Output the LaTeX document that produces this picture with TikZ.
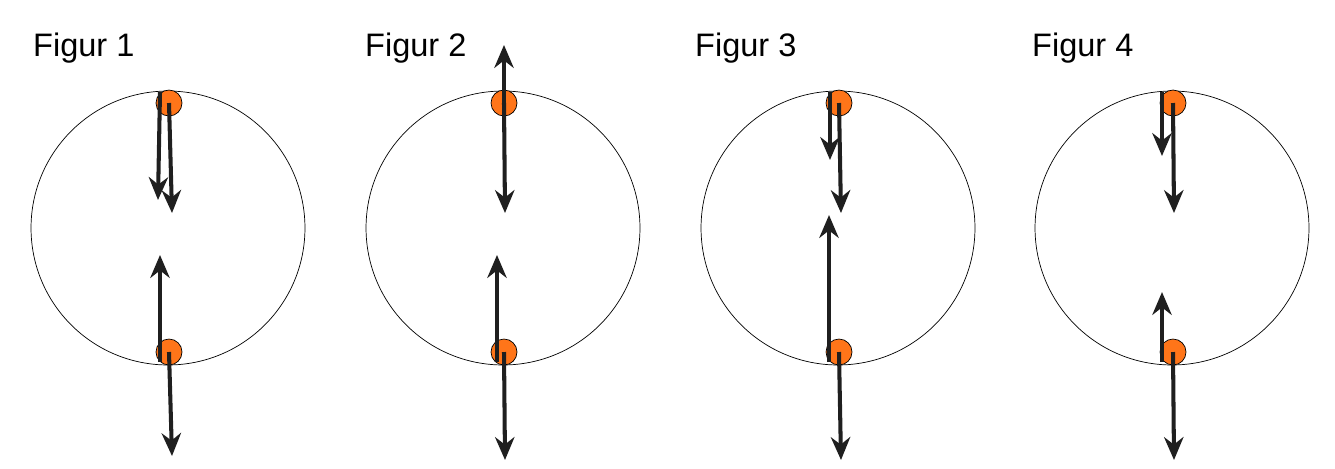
\documentclass[tikz,border=0pt]{standalone}
\usepackage{fontspec}
\setmainfont{Liberation Sans}
\usetikzlibrary{arrows.meta}

\begin{document}
\begin{tikzpicture}[x=0.02cm, y=-0.02cm,
  ring/.style={circle, draw, thin, minimum size=5.48cm, inner sep=0},
  ball/.style={circle, draw, fill=orange!80!red!90, minimum size=0.52cm, inner sep=0},
  vec/.style={line width=2.3pt, draw=black!88, -{Stealth[length=13pt, width=11pt]}},
  lbl/.style={anchor=base west, font=\fontsize{18.5}{20}\selectfont}]
	\useasboundingbox (0,0) rectangle (1335,468);

	\foreach \i/\cx/\tx in {1/168/27, 2/503/359, 3/838/689, 4/1172/1026} {
		\node[ring] (R\i) at (\cx,228) {};
		\node[ball] (T\i) at (\cx+1,103) {};
		\node[ball] (B\i) at (\cx+1,352) {};
		\node[lbl] (L\i) at (\tx,56) {Figur \i};
	}

	% Figur 1
	\coordinate (a1) at (160,92);  \coordinate (a2) at (158,200);
	\coordinate (a3) at (172,213); \coordinate (a4) at (160,362);
	\coordinate (a5) at (160,255); \coordinate (a6) at (172,456);
	\draw[vec] (a1) -- (a2);
	\draw[vec] (T1.center) -- (a3);
	\draw[vec] (a4) -- (a5);
	\draw[vec] (B1.center) -- (a6);

	% Figur 2
	\coordinate (b1) at (504,45);  \coordinate (b2) at (505,213);
	\coordinate (b3) at (497,362); \coordinate (b4) at (497,255);
	\coordinate (b5) at (505,460);
	\draw[vec] (T2.center) -- (b1);
	\draw[vec] (T2.center) -- (b2);
	\draw[vec] (b3) -- (b4);
	\draw[vec] (B2.center) -- (b5);

	% Figur 3
	\coordinate (c1) at (830,92);  \coordinate (c2) at (830,160);
	\coordinate (c3) at (841,213); \coordinate (c4) at (829,362);
	\coordinate (c5) at (829,215); \coordinate (c6) at (841,460);
	\draw[vec] (c1) -- (c2);
	\draw[vec] (T3.center) -- (c3);
	\draw[vec] (c4) -- (c5);
	\draw[vec] (B3.center) -- (c6);

	% Figur 4
	\coordinate (d1) at (1162,92);  \coordinate (d2) at (1162,156);
	\coordinate (d3) at (1174,213); \coordinate (d4) at (1162,362);
	\coordinate (d5) at (1162,292); \coordinate (d6) at (1174,460);
	\draw[vec] (d1) -- (d2);
	\draw[vec] (T4.center) -- (d3);
	\draw[vec] (d4) -- (d5);
	\draw[vec] (B4.center) -- (d6);
\end{tikzpicture}
\end{document}
